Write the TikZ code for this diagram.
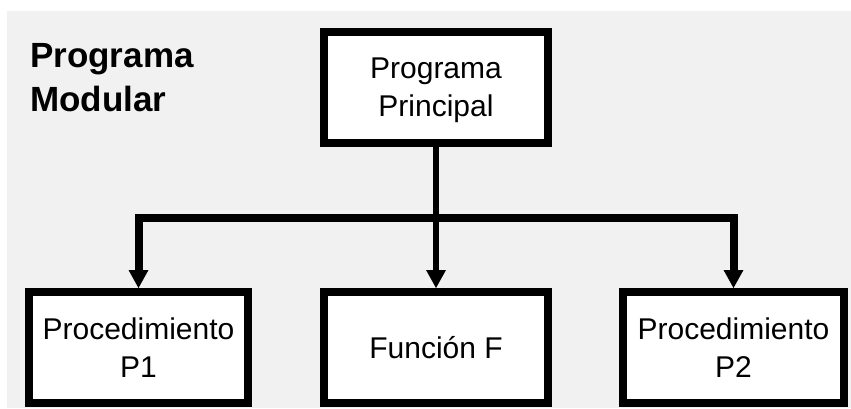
\documentclass[tikz,border=0pt]{standalone}
\usepackage{fontspec}
\setmainfont{Liberation Sans}
\usetikzlibrary{arrows.meta}
\definecolor{bgpanel}{HTML}{F1F1F1}
\begin{document}
\begin{tikzpicture}[x=1pt,y=-1pt,
  box/.style={draw=black,line width=8pt,fill=white,inner sep=0pt,align=center,
    minimum height=111pt,text depth=0pt,font=\fontsize{30}{38}\selectfont},
  tip/.style={-{Triangle[width=20pt,length=18pt,line width=0pt]}},
  stem/.style={line width=6pt,tip},
  bus/.style={line width=8pt,miter limit=10,line join=miter,tip}
]
\useasboundingbox (0,0) rectangle (851,408);
\fill[white] (0,0) rectangle (851,408);
\fill[bgpanel] (7,11) rectangle (851,408);

\node[anchor=north west,inner sep=0pt,align=left,
  font=\fontsize{35}{44}\selectfont\bfseries] (title) at (30,43) {Programa\\Modular};

\node[box,minimum width=224pt] (main) at (436,87.5) {Programa\\Principal};
\node[box,minimum width=219pt] (p1) at (138.5,347.5) {Procedimiento\\P1};
\node[box,minimum width=224pt] (fn) at (436,347.5) {Función F};
\node[box,minimum width=221pt] (p2) at (733.5,347.5) {Procedimiento\\P2};

\coordinate (j) at (436,217.5);
\draw[stem] (main.south) -- (fn.north);
\draw[bus] (j) -| (p1.north);
\draw[bus] (j) -| (p2.north);
\end{tikzpicture}
\end{document}
